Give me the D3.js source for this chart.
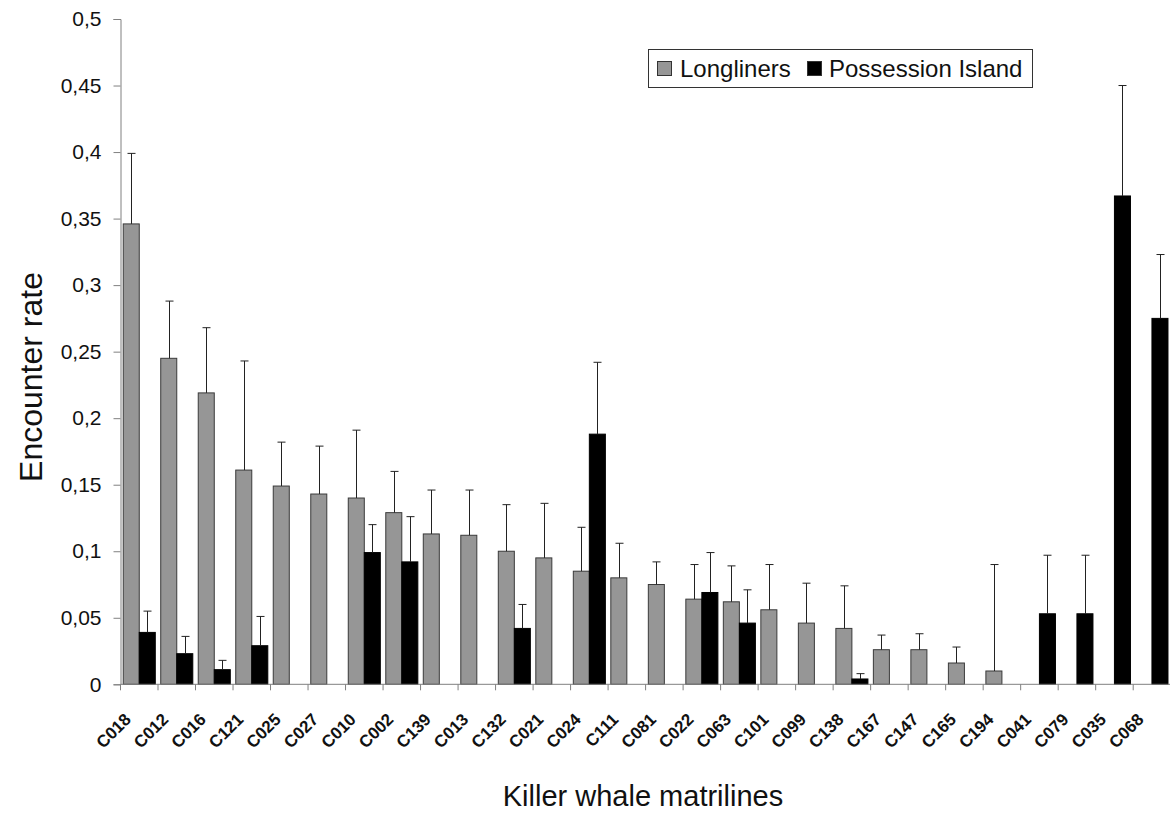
<!DOCTYPE html>
<html>
<head>
<meta charset="utf-8">
<script src="https://cdn.jsdelivr.net/npm/d3@7"></script>
<style>
  html, body { margin: 0; padding: 0; background: #fff; }
  svg { display: block; font-family: "Liberation Sans", Arial, sans-serif; }
</style>
</head>
<body>
<svg id="chart" width="1170" height="814"></svg>
<script>
// ---- data ----
const categories = ["C018","C012","C016","C121","C025","C027","C010","C002","C139","C013","C132","C021","C024","C111","C081","C022","C063","C101","C099","C138","C167","C147","C165","C194","C041","C079","C035","C068"];
const longliners    = [0.346,0.245,0.219,0.161,0.149,0.143,0.140,0.129,0.113,0.112,0.100,0.095,0.085,0.080,0.075,0.064,0.062,0.056,0.046,0.042,0.026,0.026,0.016,0.010,null,null,null,null];
const longlinersErr = [0.053,0.043,0.049,0.082,0.033,0.036,0.051,0.031,0.033,0.034,0.035,0.041,0.033,0.026,0.017,0.026,0.027,0.034,0.030,0.032,0.011,0.012,0.012,0.080,null,null,null,null];
const possession    = [0.039,0.023,0.011,0.029,null,null,0.099,0.092,null,null,0.042,null,0.188,null,null,0.069,0.046,null,null,0.004,null,null,null,null,0.053,0.053,0.367,0.275];
const possessionErr = [0.016,0.013,0.007,0.022,null,null,0.021,0.034,null,null,0.018,null,0.054,null,null,0.030,0.025,null,null,0.004,null,null,null,null,0.044,0.044,0.083,0.048];
const seriesNames = ["Longliners","Possession Island"];
const yTicks = [0,0.05,0.1,0.15,0.2,0.25,0.3,0.35,0.4,0.45,0.5];
const xTitle = "Killer whale matrilines";
const yTitle = "Encounter rate";

// ---- layout ----
const svg = d3.select("#chart");
const plotLeft = 120.5, plotRight = 1170.7, plotTop = 19, plotBottom = 684.3;
const colors = {"Longliners": "#969696", "Possession Island": "#000000"};

const x = d3.scaleBand().domain(categories).range([plotLeft, plotRight]).padding(0);
const x1 = d3.scaleBand().domain(seriesNames).range([0, x.bandwidth()]).paddingInner(0).paddingOuter(0.17);
const y = d3.scaleLinear().domain([0, 0.5]).range([plotBottom, plotTop]);

const fmt = v => String(+v.toFixed(2)).replace(".", ",");

// y axis
const yAxis = svg.append("g").attr("transform", `translate(${plotLeft},0)`)
  .call(d3.axisLeft(y).tickValues(yTicks).tickFormat(fmt).tickSizeOuter(0).tickSize(7).tickPadding(12));
yAxis.select(".domain").attr("stroke", "#808080");
yAxis.selectAll(".tick line").attr("stroke", "#808080");
yAxis.selectAll(".tick text").attr("font-size", 21).attr("fill", "#111").attr("font-family", "Liberation Sans, Arial, sans-serif");

// x axis (ticks at category boundaries)
const boundaries = categories.map(c => x(c));
const xg = svg.append("g");
xg.selectAll("line.tk").data(boundaries).join("line").attr("class", "tk")
  .attr("x1", d => d).attr("x2", d => d).attr("y1", plotBottom).attr("y2", plotBottom + 6).attr("stroke", "#808080");
const lab = xg.selectAll("g.lab").data(categories).join("g").attr("class", "lab")
  .attr("transform", d => `translate(${x(d) + x.bandwidth() / 2 - 11.5},${plotBottom + 32})`);
lab.append("text")
  .attr("transform", "rotate(-45)")
  .attr("text-anchor", "end").attr("dy", "0.35em")
  .attr("font-size", 17).attr("font-weight", "bold").attr("fill", "#111")
  .text(d => d);

// bars
const rows = [];
categories.forEach((c, i) => {
  rows.push({c, s: "Longliners", v: longliners[i], e: longlinersErr[i]});
  rows.push({c, s: "Possession Island", v: possession[i], e: possessionErr[i]});
});
const present = rows.filter(d => d.v !== null);

svg.append("g").selectAll("rect").data(present).join("rect")
  .attr("x", d => x(d.c) + x1(d.s))
  .attr("y", d => y(d.v))
  .attr("width", x1.bandwidth())
  .attr("height", d => y(0) - y(d.v))
  .attr("fill", d => colors[d.s])
  .attr("stroke", d => d.s === "Longliners" ? "#3a3a3a" : "#000")
  .attr("stroke-width", 1);

// error bars
const eg = svg.append("g").attr("stroke", "#222").attr("stroke-width", 1);
present.filter(d => d.e !== null).forEach(d => {
  const cx = Math.round(x(d.c) + x1(d.s) + x1.bandwidth() / 2) + 0.5;
  eg.append("line").attr("x1", cx).attr("x2", cx).attr("y1", y(d.v)).attr("y2", y(d.v + d.e));
  eg.append("line").attr("x1", cx - 4).attr("x2", cx + 4).attr("y1", y(d.v + d.e)).attr("y2", y(d.v + d.e));
});

// x axis baseline on top
svg.append("line").attr("x1", plotLeft).attr("x2", 1170).attr("y1", plotBottom).attr("y2", plotBottom).attr("stroke", "#808080");

// titles
svg.append("text").attr("x", 643).attr("y", 806).attr("text-anchor", "middle")
  .attr("font-size", 29).attr("fill", "#111").text(xTitle);
svg.append("text").attr("transform", "translate(42,377) rotate(-90)").attr("text-anchor", "middle")
  .attr("font-size", 32).attr("fill", "#111").text(yTitle);

// legend
const lg = svg.append("g");
lg.append("rect").attr("x", 648.5).attr("y", 49.5).attr("width", 384).attr("height", 38)
  .attr("fill", "#fff").attr("stroke", "#333");
const legendItems = [
  {name: seriesNames[0], sx: 657, tx: 680},
  {name: seriesNames[1], sx: 807, tx: 829}
];
legendItems.forEach(it => {
  lg.append("rect").attr("x", it.sx + 0.5).attr("y", 61.5).attr("width", 14).attr("height", 14)
    .attr("fill", colors[it.name]).attr("stroke", "#333");
  lg.append("text").attr("x", it.tx).attr("y", 77).attr("font-size", 24).attr("fill", "#111").text(it.name);
});
</script>
</body>
</html>
